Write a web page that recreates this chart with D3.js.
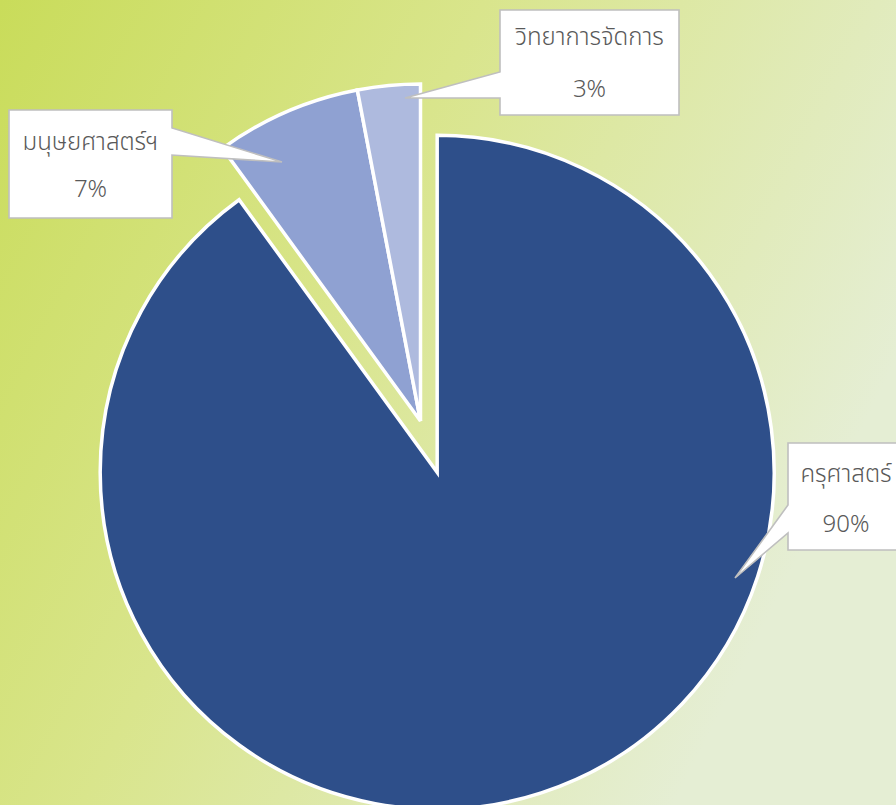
<!DOCTYPE html>
<html>
<head>
<meta charset="utf-8">
<script src="https://cdn.jsdelivr.net/npm/d3@7"></script>
<style>
  html, body { margin: 0; padding: 0; overflow: hidden; }
  svg { display: block; }
</style>
</head>
<body>
<svg width="896" height="805"></svg>
<script>
// chart data
const categories = ["ครุศาสตร์", "มนุษยศาสตร์ฯ", "วิทยาการจัดการ"];
const values = [90, 7, 3];
const valueLabels = ["90%", "7%", "3%"];
const colors = ["#2E4F8A", "#8FA1D2", "#AEBADE"];

// callout layout (box + pointer tip), placed by hand like in the original
const callouts = [
    {x: 788, y: 443, w: 118, h: 107, side: "left", p1: 505, p2: 533, tip: [735, 578], b1: 482, b2: 532, cx: 846},
    {x: 9, y: 110, w: 163, h: 108, side: "right", p1: 128, p2: 155, tip: [282, 162], b1: 150, b2: 197},
    {x: 500, y: 10, w: 179, h: 105, side: "left", p1: 72, p2: 98, tip: [405, 98], b1: 45, b2: 97}
];

let svg = d3.select("svg"),
    width = +svg.attr("width"),
    height = +svg.attr("height");

let defs = svg.append("defs");
let grad = defs.append("linearGradient")
    .attr("id", "bg")
    .attr("x1", 0).attr("y1", 0)
    .attr("x2", 1).attr("y2", 0.45);
grad.append("stop").attr("offset", "0%").attr("stop-color", "#C9DC5A");
grad.append("stop").attr("offset", "45%").attr("stop-color", "#D9E58C");
grad.append("stop").attr("offset", "100%").attr("stop-color", "#E5EED4");

svg.append("rect")
    .attr("width", width)
    .attr("height", height)
    .attr("fill", "url(#bg)");

let radius = 337,
    cx = 420.5,
    cy = 421,
    explode = 54;

let pie = d3.pie().sort(null).value(d => d);
let arc = d3.arc().innerRadius(0).outerRadius(radius);
let arcs = pie(values);

let g = svg.append("g").attr("transform", "translate(" + cx + "," + cy + ")");

g.selectAll(".slice")
    .data(arcs)
    .enter().append("path")
    .attr("class", "slice")
    .attr("d", arc)
    .attr("fill", (d, i) => colors[i])
    .attr("stroke", "#fff")
    .attr("stroke-width", 3.5)
    .attr("stroke-linejoin", "miter")
    .attr("transform", (d, i) => {
        // only the big slice is pulled out
        if (i !== 0) return null;
        let a = (d.startAngle + d.endAngle) / 2;
        return "translate(" + (Math.sin(a) * explode) + "," + (-Math.cos(a) * explode) + ")";
    });

function calloutPath(c) {
    let x0 = c.x, y0 = c.y, x1 = c.x + c.w, y1 = c.y + c.h;
    if (c.side === "left") {
        return "M" + x0 + "," + y0 + "H" + x1 + "V" + y1 + "H" + x0 +
            "V" + c.p2 + "L" + c.tip[0] + "," + c.tip[1] + "L" + x0 + "," + c.p1 + "Z";
    }
    return "M" + x0 + "," + y0 + "H" + x1 + "V" + c.p1 +
        "L" + c.tip[0] + "," + c.tip[1] + "L" + x1 + "," + c.p2 +
        "V" + y1 + "H" + x0 + "Z";
}

let labels = svg.selectAll(".callout")
    .data(callouts)
    .enter().append("g")
    .attr("class", "callout");

labels.append("path")
    .attr("d", calloutPath)
    .attr("fill", "#fff")
    .attr("stroke", "#BFBFBF")
    .attr("stroke-width", 1.6);

labels.append("text")
    .attr("x", d => d.cx || d.x + d.w / 2)
    .attr("y", d => d.b1)
    .attr("text-anchor", "middle")
    .attr("fill", "#595959")
    .style("font-family", "'Noto Sans', 'Noto Sans Thai', sans-serif")
    .style("font-size", "24px")
    .style("font-weight", 300)
    .text((d, i) => categories[i]);

labels.append("text")
    .attr("x", d => d.cx || d.x + d.w / 2)
    .attr("y", d => d.b2)
    .attr("text-anchor", "middle")
    .attr("fill", "#595959")
    .style("font-family", "'Noto Sans', sans-serif")
    .style("font-size", "24px")
    .style("font-weight", 300)
    .text((d, i) => valueLabels[i]);
</script>
</body>
</html>
